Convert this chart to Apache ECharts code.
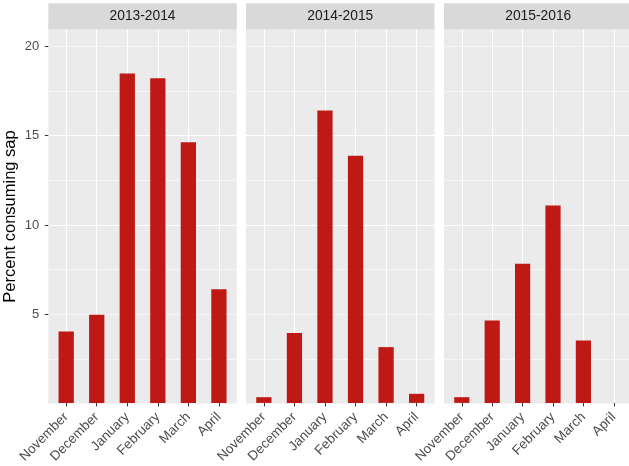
<!DOCTYPE html>
<html>
<head>
<meta charset="utf-8">
<script src="https://cdn.jsdelivr.net/npm/echarts@6/dist/echarts.min.js"></script>
<style>
html,body{margin:0;padding:0;background:#fff;}
#chart{width:629px;height:466px;}
</style>
</head>
<body>
<div id="chart"></div>
<script>
// ---- data ----
var months = ['November', 'December', 'January', 'February', 'March', 'April'];
var seasons = ['2013-2014', '2014-2015', '2015-2016'];
var pct2013 = [4.0, 4.95, 18.48, 18.22, 14.62, 6.37];
var pct2014 = [0.32, 3.92, 16.4, 13.86, 3.13, 0.51];
var pct2015 = [0.32, 4.62, 7.81, 11.07, 3.5, 0];
var yTicks = [5, 10, 15, 20];
var yMax = 20.95;
var yTitle = 'Percent consuming sap';

// ---- layout ----
var FONT = '"Liberation Sans", Arial, Helvetica, sans-serif';
var panelLeft = [48.3, 246, 444];
var panelW = 188.5;
var panelTop = 29.5;
var panelH = 374;
var stripTop = 3.3;
var expand = 0.6; // ggplot discrete expansion (in category units)
var nCat = months.length;
var catStep = panelW / (nCat + 2 * expand);
var series = [pct2013, pct2014, pct2015];

var grids = [], xAxes = [], yAxes = [], seriesList = [], graphics = [];

for (var p = 0; p < 3; p++) {
  var L = panelLeft[p];
  grids.push({left: L, top: panelTop, width: panelW, height: panelH,
    show: true, backgroundColor: '#EBEBEB', borderWidth: 0, containLabel: false});
  var inset = (expand - 0.5) * catStep;
  grids.push({left: L + inset, top: panelTop, width: panelW - 2 * inset, height: panelH,
    show: false, containLabel: false});
  var gb = 2 * p, gf = 2 * p + 1;

  xAxes.push({gridIndex: gb, type: 'value', min: 0, max: 1, show: false, position: 'bottom'});
  xAxes.push({
    gridIndex: gf, type: 'category', data: months, position: 'bottom',
    axisLine: {show: false},
    axisTick: {show: true, alignWithLabel: true, length: 3.5, interval: 0,
      lineStyle: {color: '#333333', width: 1}},
    splitLine: {show: true, alignWithLabel: true, interval: 0,
      lineStyle: {color: '#FFFFFF', width: 1.1}},
    axisLabel: {rotate: 45, interval: 0, margin: 12, color: '#4D4D4D',
      fontSize: 13.5, fontFamily: FONT, hideOverlap: false}
  });

  // minor gridlines
  yAxes.push({
    gridIndex: gb, type: 'value', position: 'left', min: 0, max: yMax, interval: 2.5,
    axisLine: {show: false}, axisTick: {show: false}, axisLabel: {show: false},
    splitLine: {show: true, showMinLine: false, showMaxLine: false,
      lineStyle: {color: '#FFFFFF', width: 0.55}}
  });
  // major gridlines + labels
  var major = {
    gridIndex: gb, type: 'value', position: 'left', offset: 0, min: 0, max: yMax, interval: 5,
    axisLine: {show: false},
    axisTick: {show: p === 0, length: 3.5, customValues: yTicks,
      lineStyle: {color: '#333333', width: 1}},
    axisLabel: {show: p === 0, customValues: yTicks, margin: 9, color: '#4D4D4D',
      fontSize: 13, fontFamily: FONT},
    splitLine: {show: true, showMinLine: false, showMaxLine: false,
      lineStyle: {color: '#FFFFFF', width: 1.1}}
  };
  if (p === 0) {
    major.name = yTitle;
    major.nameLocation = 'middle';
    major.nameGap = 29;
    major.nameTextStyle = {color: '#000000', fontSize: 16.5, fontFamily: FONT};
  }
  yAxes.push(major);
  var fgY = yAxes.length;
  yAxes.push({gridIndex: gf, type: 'value', position: 'left', min: 0, max: yMax, show: false,
    splitLine: {show: false}});

  seriesList.push({
    type: 'bar', xAxisIndex: xAxes.length - 1, yAxisIndex: fgY,
    data: series[p], barWidth: '50%',
    itemStyle: {color: '#BE1914'}, silent: true, animation: false
  });

  graphics.push({type: 'rect', shape: {x: L, y: stripTop, width: panelW, height: panelTop - stripTop},
    style: {fill: '#D9D9D9'}, silent: true});
  graphics.push({type: 'text', x: L + panelW / 2, y: (stripTop + panelTop) / 2,
    style: {text: seasons[p], fill: '#1A1A1A', font: '13.8px ' + FONT,
      align: 'center', verticalAlign: 'middle'}, silent: true});
}

var chart = echarts.init(document.getElementById('chart'), null, {renderer: 'canvas'});
chart.setOption({
  animation: false,
  backgroundColor: '#FFFFFF',
  grid: grids,
  xAxis: xAxes,
  yAxis: yAxes,
  series: seriesList,
  graphic: graphics
});
</script>
</body>
</html>
